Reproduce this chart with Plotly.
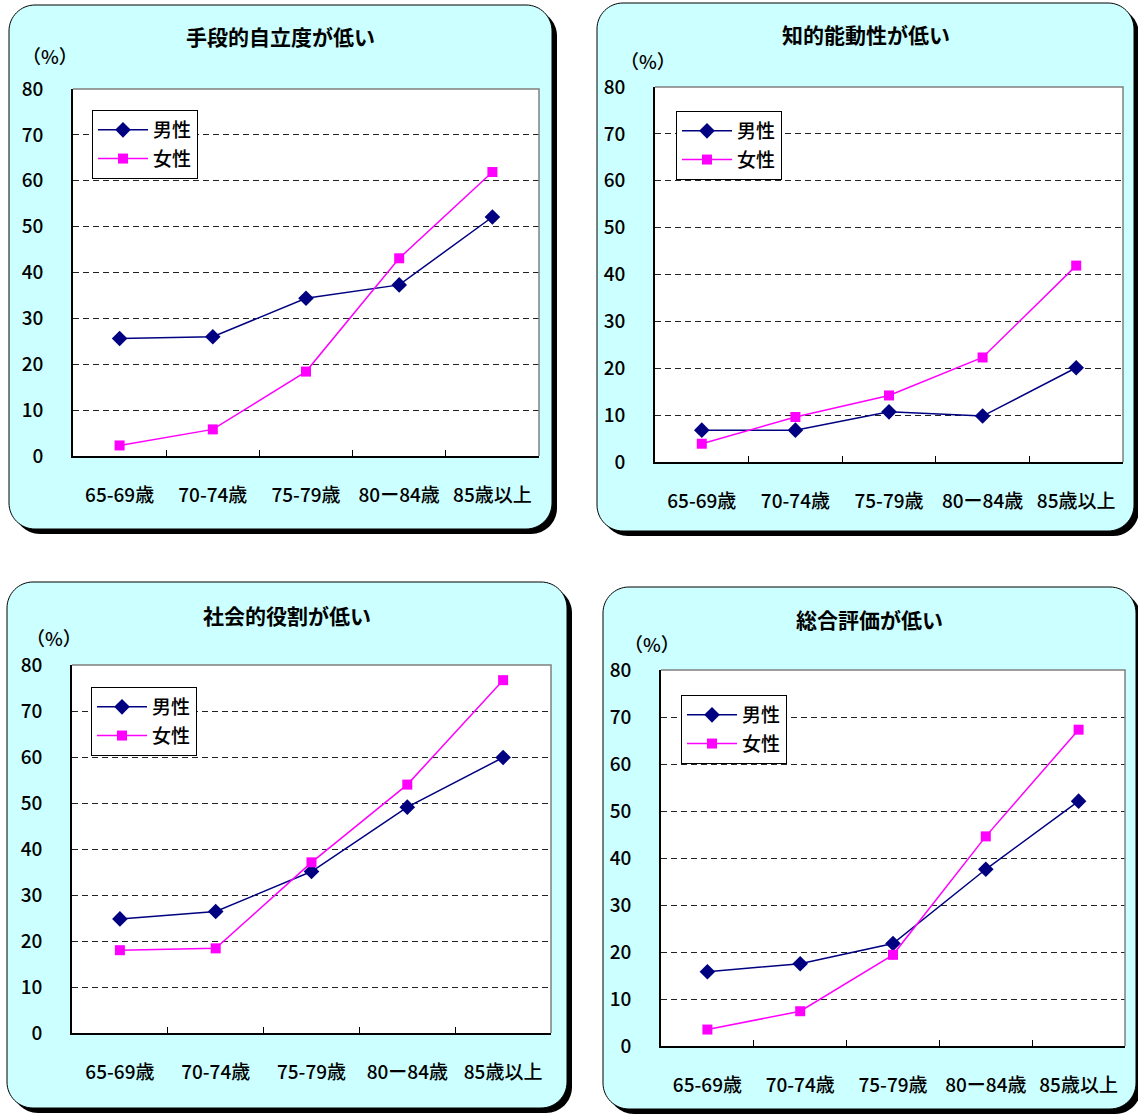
import plotly.graph_objects as go

W, H = 1138, 1115

categories = ["65-69歳", "70-74歳", "75-79歳", "80ー84歳", "85歳以上"]
titles = ["手段的自立度が低い", "知的能動性が低い", "社会的役割が低い", "総合評価が低い"]
series_names = ["男性", "女性"]
y_ticks = [0, 10, 20, 30, 40, 50, 60, 70, 80]

male_1 = [25.6, 26.0, 34.4, 37.3, 52.1]
female_1 = [2.3, 5.8, 18.4, 43.1, 61.9]
male_2 = [6.8, 6.8, 10.7, 9.8, 20.1]
female_2 = [3.9, 9.6, 14.2, 22.3, 41.9]
male_3 = [24.8, 26.4, 35.1, 49.1, 59.9]
female_3 = [18.0, 18.4, 37.1, 54.0, 76.7]
male_4 = [15.8, 17.5, 21.8, 37.6, 52.1]
female_4 = [3.5, 7.4, 19.4, 44.6, 67.3]

males = [male_1, male_2, male_3, male_4]
females = [female_1, female_2, female_3, female_4]

# layout geometry in pixels
panels = [  # cyan panel box: l, t, r, b
    (9, 5, 552, 529),
    (597, 3, 1134, 531),
    (7, 582, 567, 1108),
    (603, 587, 1136, 1109),
]
plots = [  # plot area: l, t, r, b
    (73, 89, 539, 456),
    (655, 87, 1123, 462),
    (72, 665, 551, 1033),
    (661, 670, 1125, 1046),
]
legends = [(92, 110), (676, 111), (91, 687), (681, 695)]
pct_pos = [(50, 55), (648, 60), (54, 637), (652, 643)]
title_y = [36, 34, 615, 619]

FONT = "Noto Sans CJK JP"


def px(x):
    return x / W


def py(y):
    return 1 - y / H


def rounded_path(l, t, r, b, rad):
    k = 0.5523 * rad
    pts = []
    pts.append(f"M{px(l + rad)},{py(t)}")
    pts.append(f"L{px(r - rad)},{py(t)}")
    pts.append(f"C{px(r - rad + k)},{py(t)} {px(r)},{py(t + rad - k)} {px(r)},{py(t + rad)}")
    pts.append(f"L{px(r)},{py(b - rad)}")
    pts.append(f"C{px(r)},{py(b - rad + k)} {px(r - rad + k)},{py(b)} {px(r - rad)},{py(b)}")
    pts.append(f"L{px(l + rad)},{py(b)}")
    pts.append(f"C{px(l + rad - k)},{py(b)} {px(l)},{py(b - rad + k)} {px(l)},{py(b - rad)}")
    pts.append(f"L{px(l)},{py(t + rad)}")
    pts.append(f"C{px(l)},{py(t + rad - k)} {px(l + rad - k)},{py(t)} {px(l + rad)},{py(t)}")
    pts.append("Z")
    return " ".join(pts)


fig = go.Figure()
shapes = []
annotations = []
layout_extra = {}

for i in range(4):
    ax = "" if i == 0 else str(i + 1)
    lg = "legend" if i == 0 else f"legend{i + 1}"
    pl, pt, pr, pb = plots[i]
    cl, ct, cr, cb = panels[i]

    # shadow + panel
    shapes.append(dict(type="path", path=rounded_path(cl + 5, ct + 5, cr + 5, cb + 5, 26),
                       xref="paper", yref="paper", fillcolor="black", line=dict(width=0),
                       layer="below"))
    shapes.append(dict(type="path", path=rounded_path(cl, ct, cr, cb, 26),
                       xref="paper", yref="paper", fillcolor="#CCFFFF",
                       line=dict(color="black", width=1), layer="below"))
    # plot background
    shapes.append(dict(type="rect", x0=px(pl), x1=px(pr), y0=py(pb), y1=py(pt),
                       xref="paper", yref="paper", fillcolor="white", line=dict(width=0),
                       layer="below"))
    # gray top/right border
    shapes.append(dict(type="path",
                       path=f"M{px(pl)},{py(pt)} L{px(pr)},{py(pt)} L{px(pr)},{py(pb)}",
                       xref="paper", yref="paper", line=dict(color="#808080", width=1.5),
                       layer="above"))

    fig.add_trace(go.Scatter(
        x=categories, y=males[i], name=series_names[0], mode="lines+markers",
        line=dict(color="#000080", width=1.5),
        marker=dict(symbol="diamond", size=12, color="#000080"),
        xaxis="x" + ax, yaxis="y" + ax, legend=lg, legendgroup=f"m{i}",
    ))
    fig.add_trace(go.Scatter(
        x=categories, y=females[i], name=series_names[1], mode="lines+markers",
        line=dict(color="#FF00FF", width=1.5),
        marker=dict(symbol="square", size=10, color="#FF00FF"),
        xaxis="x" + ax, yaxis="y" + ax, legend=lg, legendgroup=f"f{i}",
    ))

    layout_extra["xaxis" + ax] = dict(
        domain=[px(pl), px(pr)], anchor="y" + ax, type="category",
        categoryorder="array", categoryarray=categories,
        range=[-0.5, len(categories) - 0.5], autorange=False,
        showline=True, linecolor="black", linewidth=1.5,
        ticks="inside", tickson="boundaries", ticklen=6, tickcolor="black", tickwidth=1,
        showgrid=False, ticklabelstandoff=21, automargin=False,
        tickfont=dict(family=FONT, size=19, color="black", weight=500),
        fixedrange=True,
    )
    layout_extra["yaxis" + ax] = dict(
        domain=[py(pb), py(pt)], anchor="x" + ax, range=[0, 80],
        tickvals=y_ticks, ticktext=[str(v) for v in y_ticks],
        showline=True, linecolor="black", linewidth=1.5,
        showgrid=True, gridcolor="#222222", gridwidth=1, griddash="6px,4px",
        zeroline=False, ticks="", ticklabelstandoff=24, automargin=False,
        tickfont=dict(family=FONT, size=19, color="black", weight=500),
        fixedrange=True,
    )
    lx, ly = legends[i]
    layout_extra[lg] = dict(
        x=px(lx), y=py(ly), xanchor="left", yanchor="top",
        xref="paper", yref="paper",
        bgcolor="white", bordercolor="black", borderwidth=1,
        font=dict(family=FONT, size=19, color="black", weight=500),
        traceorder="grouped", tracegroupgap=1, itemwidth=50,
    )

    annotations.append(dict(
        text=titles[i], x=px((cl + cr) / 2), y=py(title_y[i]), xref="paper", yref="paper",
        xanchor="center", yanchor="middle", showarrow=False,
        font=dict(family=FONT, size=21, color="black", weight=600),
    ))
    qx, qy = pct_pos[i]
    annotations.append(dict(
        text="（%）", x=px(qx), y=py(qy), xref="paper", yref="paper",
        xanchor="center", yanchor="middle", showarrow=False,
        font=dict(family=FONT, size=19, color="black", weight=500),
    ))

fig.update_layout(
    width=W, height=H, margin=dict(l=0, r=0, t=0, b=0, autoexpand=False),
    paper_bgcolor="white", plot_bgcolor="rgba(0,0,0,0)",
    shapes=shapes, annotations=annotations, showlegend=True,
    **layout_extra,
)

fig.write_html("out.html", config={"displayModeBar": False},
               post_script="document.body.style.margin='0';document.body.style.overflow='hidden';")
